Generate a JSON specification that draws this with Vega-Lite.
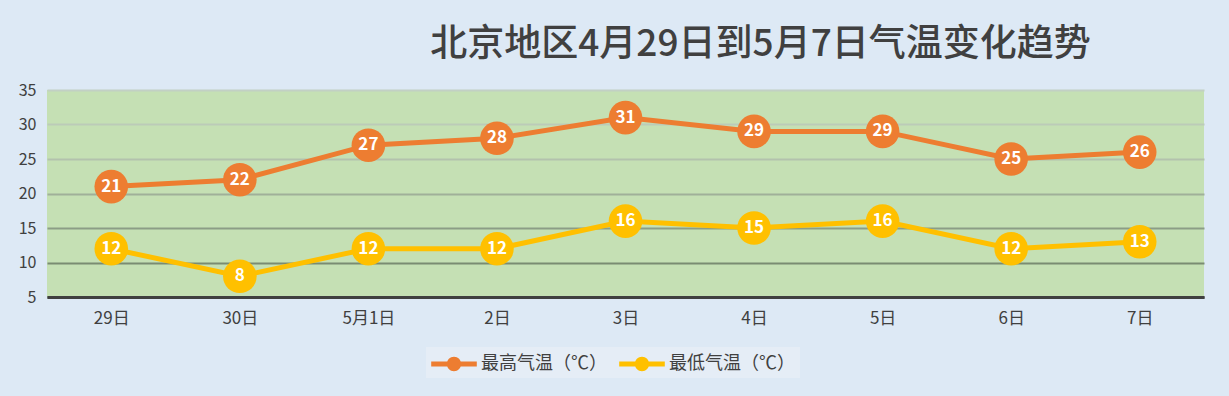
{
  "$schema": "https://vega.github.io/schema/vega-lite/v6.json",
  "width": 1157,
  "height": 207,
  "autosize": {"type": "none"},
  "padding": {"left": 47, "top": 90, "right": 25, "bottom": 99},
  "background": "#dde9f5",
  "title": {
    "text": "北京地区4月29日到5月7日气温变化趋势",
    "anchor": "middle",
    "dx": 135,
    "offset": 18,
    "fontSize": 37,
    "font": "Noto Sans CJK SC",
    "fontWeight": 500,
    "color": "#404040"
  },
  "config": {
    "view": {"fill": "#c5e0b4", "stroke": null},
    "font": "Noto Sans CJK SC"
  },
  "data": {
    "values": [
      {"date": "29日", "series": "最高气温（℃）", "temp": 21},
      {"date": "30日", "series": "最高气温（℃）", "temp": 22},
      {"date": "5月1日", "series": "最高气温（℃）", "temp": 27},
      {"date": "2日", "series": "最高气温（℃）", "temp": 28},
      {"date": "3日", "series": "最高气温（℃）", "temp": 31},
      {"date": "4日", "series": "最高气温（℃）", "temp": 29},
      {"date": "5日", "series": "最高气温（℃）", "temp": 29},
      {"date": "6日", "series": "最高气温（℃）", "temp": 25},
      {"date": "7日", "series": "最高气温（℃）", "temp": 26},
      {"date": "29日", "series": "最低气温（℃）", "temp": 12},
      {"date": "30日", "series": "最低气温（℃）", "temp": 8},
      {"date": "5月1日", "series": "最低气温（℃）", "temp": 12},
      {"date": "2日", "series": "最低气温（℃）", "temp": 12},
      {"date": "3日", "series": "最低气温（℃）", "temp": 16},
      {"date": "4日", "series": "最低气温（℃）", "temp": 15},
      {"date": "5日", "series": "最低气温（℃）", "temp": 16},
      {"date": "6日", "series": "最低气温（℃）", "temp": 12},
      {"date": "7日", "series": "最低气温（℃）", "temp": 13}
    ]
  },
  "encoding": {
    "x": {
      "field": "date",
      "type": "ordinal",
      "sort": null,
      "scale": {"type": "point", "padding": 0.5},
      "axis": {
        "title": null,
        "labelAngle": 0,
        "ticks": false,
        "domainColor": "#404040",
        "domainWidth": 3,
        "labelPadding": 13,
        "labelFontSize": 17,
        "labelColor": "#404040",
        "grid": false
      }
    },
    "y": {
      "field": "temp",
      "type": "quantitative",
      "scale": {"domain": [5, 35], "nice": false},
      "axis": {
        "title": null,
        "values": [5, 10, 15, 20, 25, 30, 35],
        "ticks": false,
        "domain": false,
        "labelPadding": 11,
        "labelFontSize": 16,
        "labelColor": "#404040",
        "gridWidth": 2,
        "gridColor": {
          "condition": [
            {"test": "datum.value == 10", "value": "#7a8c72"},
            {"test": "datum.value == 15", "value": "#8c9d86"},
            {"test": "datum.value == 20", "value": "#a0b099"},
            {"test": "datum.value == 25", "value": "#b3c2ad"},
            {"test": "datum.value == 30", "value": "#bccbb8"},
            {"test": "datum.value == 35", "value": "#c2d0c4"}
          ],
          "value": "#404040"
        }
      }
    },
    "color": {
      "field": "series",
      "type": "nominal",
      "sort": null,
      "scale": {"domain": ["最高气温（℃）", "最低气温（℃）"], "range": ["#ed7d31", "#ffc000"]}
    }
  },
  "layer": [
    {
      "mark": {"type": "line", "strokeWidth": 5},
      "encoding": {
        "color": {
          "field": "series",
          "type": "nominal",
          "sort": null,
          "scale": {"domain": ["最高气温（℃）", "最低气温（℃）"], "range": ["#ed7d31", "#ffc000"]},
          "legend": {
            "orient": "none",
            "legendX": 379,
            "legendY": 257,
            "direction": "horizontal",
            "title": null,
            "fillColor": "#e5edf6",
            "padding": 5,
            "symbolType": "M-1.9,-0.2 L1.9,-0.2 L1.9,0.2 L-1.9,0.2 Z M0.6,0 A0.6,0.6 0 1,1 -0.6,0 A0.6,0.6 0 1,1 0.6,0 Z",
            "symbolSize": 576,
            "symbolOffset": 11,
            "symbolStrokeWidth": 0,
            "labelFontSize": 18,
            "labelColor": "#404040",
            "labelOffset": 15,
            "columnPadding": 12,
            "encode": {"symbols": {"update": {"fill": {"scale": "color", "field": "value"}, "strokeWidth": {"value": 0}}}}
          }
        }
      }
    },
    {
      "mark": {"type": "point", "filled": true, "size": 1130, "opacity": 1},
      "encoding": {
        "color": {
          "field": "series",
          "type": "nominal",
          "sort": null,
          "scale": {"domain": ["最高气温（℃）", "最低气温（℃）"], "range": ["#ed7d31", "#ffc000"]},
          "legend": null
        }
      }
    },
    {
      "mark": {"type": "text", "color": "white", "fontSize": 17, "fontWeight": "bold", "baseline": "middle", "align": "center"},
      "encoding": {
        "text": {"field": "temp", "type": "quantitative"},
        "color": {"value": "white"}
      }
    }
  ]
}
